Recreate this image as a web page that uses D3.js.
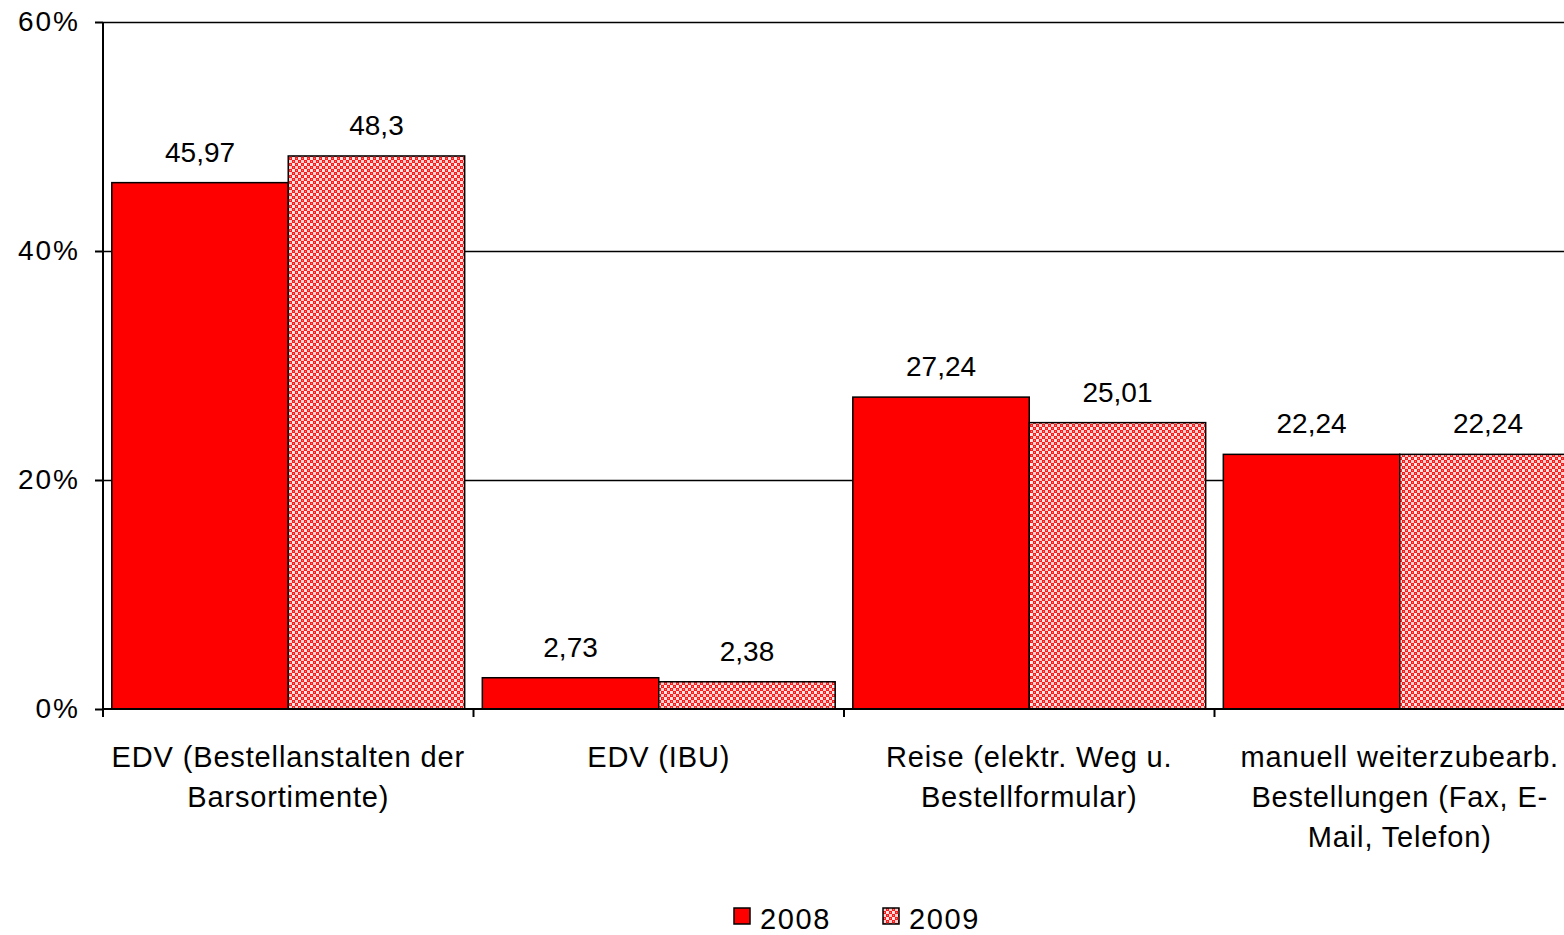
<!DOCTYPE html>
<html>
<head>
<meta charset="utf-8">
<script src="https://cdn.jsdelivr.net/npm/d3@7"></script>
<style>
  body { margin: 0; background: #fff; }
  svg { display: block; font-family: 'Liberation Sans', Arial, sans-serif; }
</style>
</head>
<body>
<div id="chart"></div>
<script>
let categories = [
  ['EDV (Bestellanstalten der', 'Barsortimente)'],
  ['EDV (IBU)'],
  ['Reise (elektr. Weg u.', 'Bestellformular)'],
  ['manuell weiterzubearb.', 'Bestellungen (Fax, E-', 'Mail, Telefon)']
]
let years = ['2008', '2009']
let values2008 = [45.97, 2.73, 27.24, 22.24]
let values2009 = [48.3, 2.38, 25.01, 22.24]
let labels2008 = ['45,97', '2,73', '27,24', '22,24']
let labels2009 = ['48,3', '2,38', '25,01', '22,24']
let yTicks = [0, 20, 40, 60]

let margin = { top: 22, left: 103, right: -21, bottom: 226 }
let totalWidth = 1564
let totalHeight = 935
let width = totalWidth - margin.left - margin.right
let height = totalHeight - margin.top - margin.bottom

let svg = d3
  .select('#chart')
  .append('svg')
  .attr('width', totalWidth)
  .attr('height', totalHeight)

let defs = svg.append('defs')
let pattern = defs
  .append('pattern')
  .attr('id', 'checker')
  .attr('patternUnits', 'userSpaceOnUse')
  .attr('width', 6)
  .attr('height', 6)
pattern.append('rect').attr('width', 6).attr('height', 6).attr('fill', '#ff1a1a')
pattern.append('rect').attr('x', 0).attr('y', 0).attr('width', 3).attr('height', 3).attr('fill', '#ffd0d0')
pattern.append('rect').attr('x', 3).attr('y', 3).attr('width', 3).attr('height', 3).attr('fill', '#ffe6e6')
pattern.append('rect').attr('x', 1).attr('y', 4).attr('width', 1).attr('height', 1).attr('fill', '#ff8080')
pattern.append('rect').attr('x', 4).attr('y', 1).attr('width', 1).attr('height', 1).attr('fill', '#ff8080')

let g = svg
  .append('g')
  .attr('transform', 'translate(' + margin.left + ',' + margin.top + ')')

let xPositionScale = d3
  .scaleBand()
  .domain(d3.range(categories.length))
  .range([0, width])
let xInner = d3
  .scaleBand()
  .domain(years)
  .range([0, xPositionScale.bandwidth()])
  .paddingOuter(0.05)
let yPositionScale = d3.scaleLinear().domain([0, 60]).range([height, 0])

let fills = { '2008': '#ff0000', '2009': 'url(#checker)' }

// gridlines
g.selectAll('.grid')
  .data(yTicks.filter(d => d > 0))
  .enter()
  .append('line')
  .attr('class', 'grid')
  .attr('x1', 0)
  .attr('x2', width)
  .attr('y1', d => yPositionScale(d) + 0.5)
  .attr('y2', d => yPositionScale(d) + 0.5)
  .attr('stroke', '#000')
  .attr('stroke-width', 1.5)

let rows = []
categories.forEach((c, i) => {
  rows.push({ cat: i, year: '2008', value: values2008[i], label: labels2008[i] })
  rows.push({ cat: i, year: '2009', value: values2009[i], label: labels2009[i] })
})

g.selectAll('.bar')
  .data(rows)
  .enter()
  .append('rect')
  .attr('class', 'bar')
  .attr('x', d => xPositionScale(d.cat) + xInner(d.year))
  .attr('width', xInner.bandwidth())
  .attr('y', d => yPositionScale(d.value))
  .attr('height', d => height - yPositionScale(d.value))
  .attr('fill', d => fills[d.year])
  .attr('stroke', '#000')
  .attr('stroke-width', 1.5)

g.selectAll('.value-label')
  .data(rows)
  .enter()
  .append('text')
  .attr('class', 'value-label')
  .attr('x', d => xPositionScale(d.cat) + xInner(d.year) + xInner.bandwidth() / 2)
  .attr('y', d => yPositionScale(d.value) - 21)
  .attr('text-anchor', 'middle')
  .attr('font-size', 28)
  .text(d => d.label)

// y axis
let yAxis = d3
  .axisLeft(yPositionScale)
  .tickValues(yTicks)
  .tickFormat(d => d + '%')
  .tickSize(8)
  .tickPadding(15)
g.append('g')
  .attr('class', 'axis y-axis')
  .call(yAxis)
  .call(sel => sel.select('.domain').attr('stroke-width', 2).attr('d', 'M0,0V' + height))
  .call(sel => sel.selectAll('.tick line').attr('stroke-width', 2))
  .call(sel =>
    sel
      .selectAll('.tick text')
      .attr('font-size', 28)
      .attr('letter-spacing', 2)
      .attr('fill', '#000')
      .attr('font-family', 'Liberation Sans, Arial, sans-serif')
  )

// x axis
g.append('line')
  .attr('x1', 0)
  .attr('x2', width)
  .attr('y1', height)
  .attr('y2', height)
  .attr('stroke', '#000')
  .attr('stroke-width', 2)

g.selectAll('.x-tick')
  .data(d3.range(categories.length))
  .enter()
  .append('line')
  .attr('class', 'x-tick')
  .attr('x1', d => xPositionScale(d))
  .attr('x2', d => xPositionScale(d))
  .attr('y1', height)
  .attr('y2', height + 8)
  .attr('stroke', '#000')
  .attr('stroke-width', 2)

let catLabels = g
  .selectAll('.cat-label')
  .data(categories)
  .enter()
  .append('text')
  .attr('class', 'cat-label')
  .attr('text-anchor', 'middle')
  .attr('font-size', 29)
  .attr('letter-spacing', 0.85)
  .attr('x', (d, i) => xPositionScale(i) + xPositionScale.bandwidth() / 2)
  .attr('y', height + 58)

catLabels
  .selectAll('tspan')
  .data(d => d)
  .enter()
  .append('tspan')
  .attr('x', function() {
    return d3.select(this.parentNode).attr('x')
  })
  .attr('dy', (d, i) => (i === 0 ? 0 : 40))
  .text(d => d)

// legend
let legend = svg
  .selectAll('.legend')
  .data(years)
  .enter()
  .append('g')
  .attr('class', 'legend')
  .attr('transform', (d, i) => 'translate(' + (734 + i * 149) + ',908)')

legend
  .append('rect')
  .attr('width', 16)
  .attr('height', 16)
  .attr('fill', d => fills[d])
  .attr('stroke', '#000')
  .attr('stroke-width', 1.5)

legend
  .append('text')
  .attr('x', 26)
  .attr('y', 21)
  .attr('font-size', 29)
  .attr('letter-spacing', 1.6)
  .text(d => d)
</script>
</body>
</html>
